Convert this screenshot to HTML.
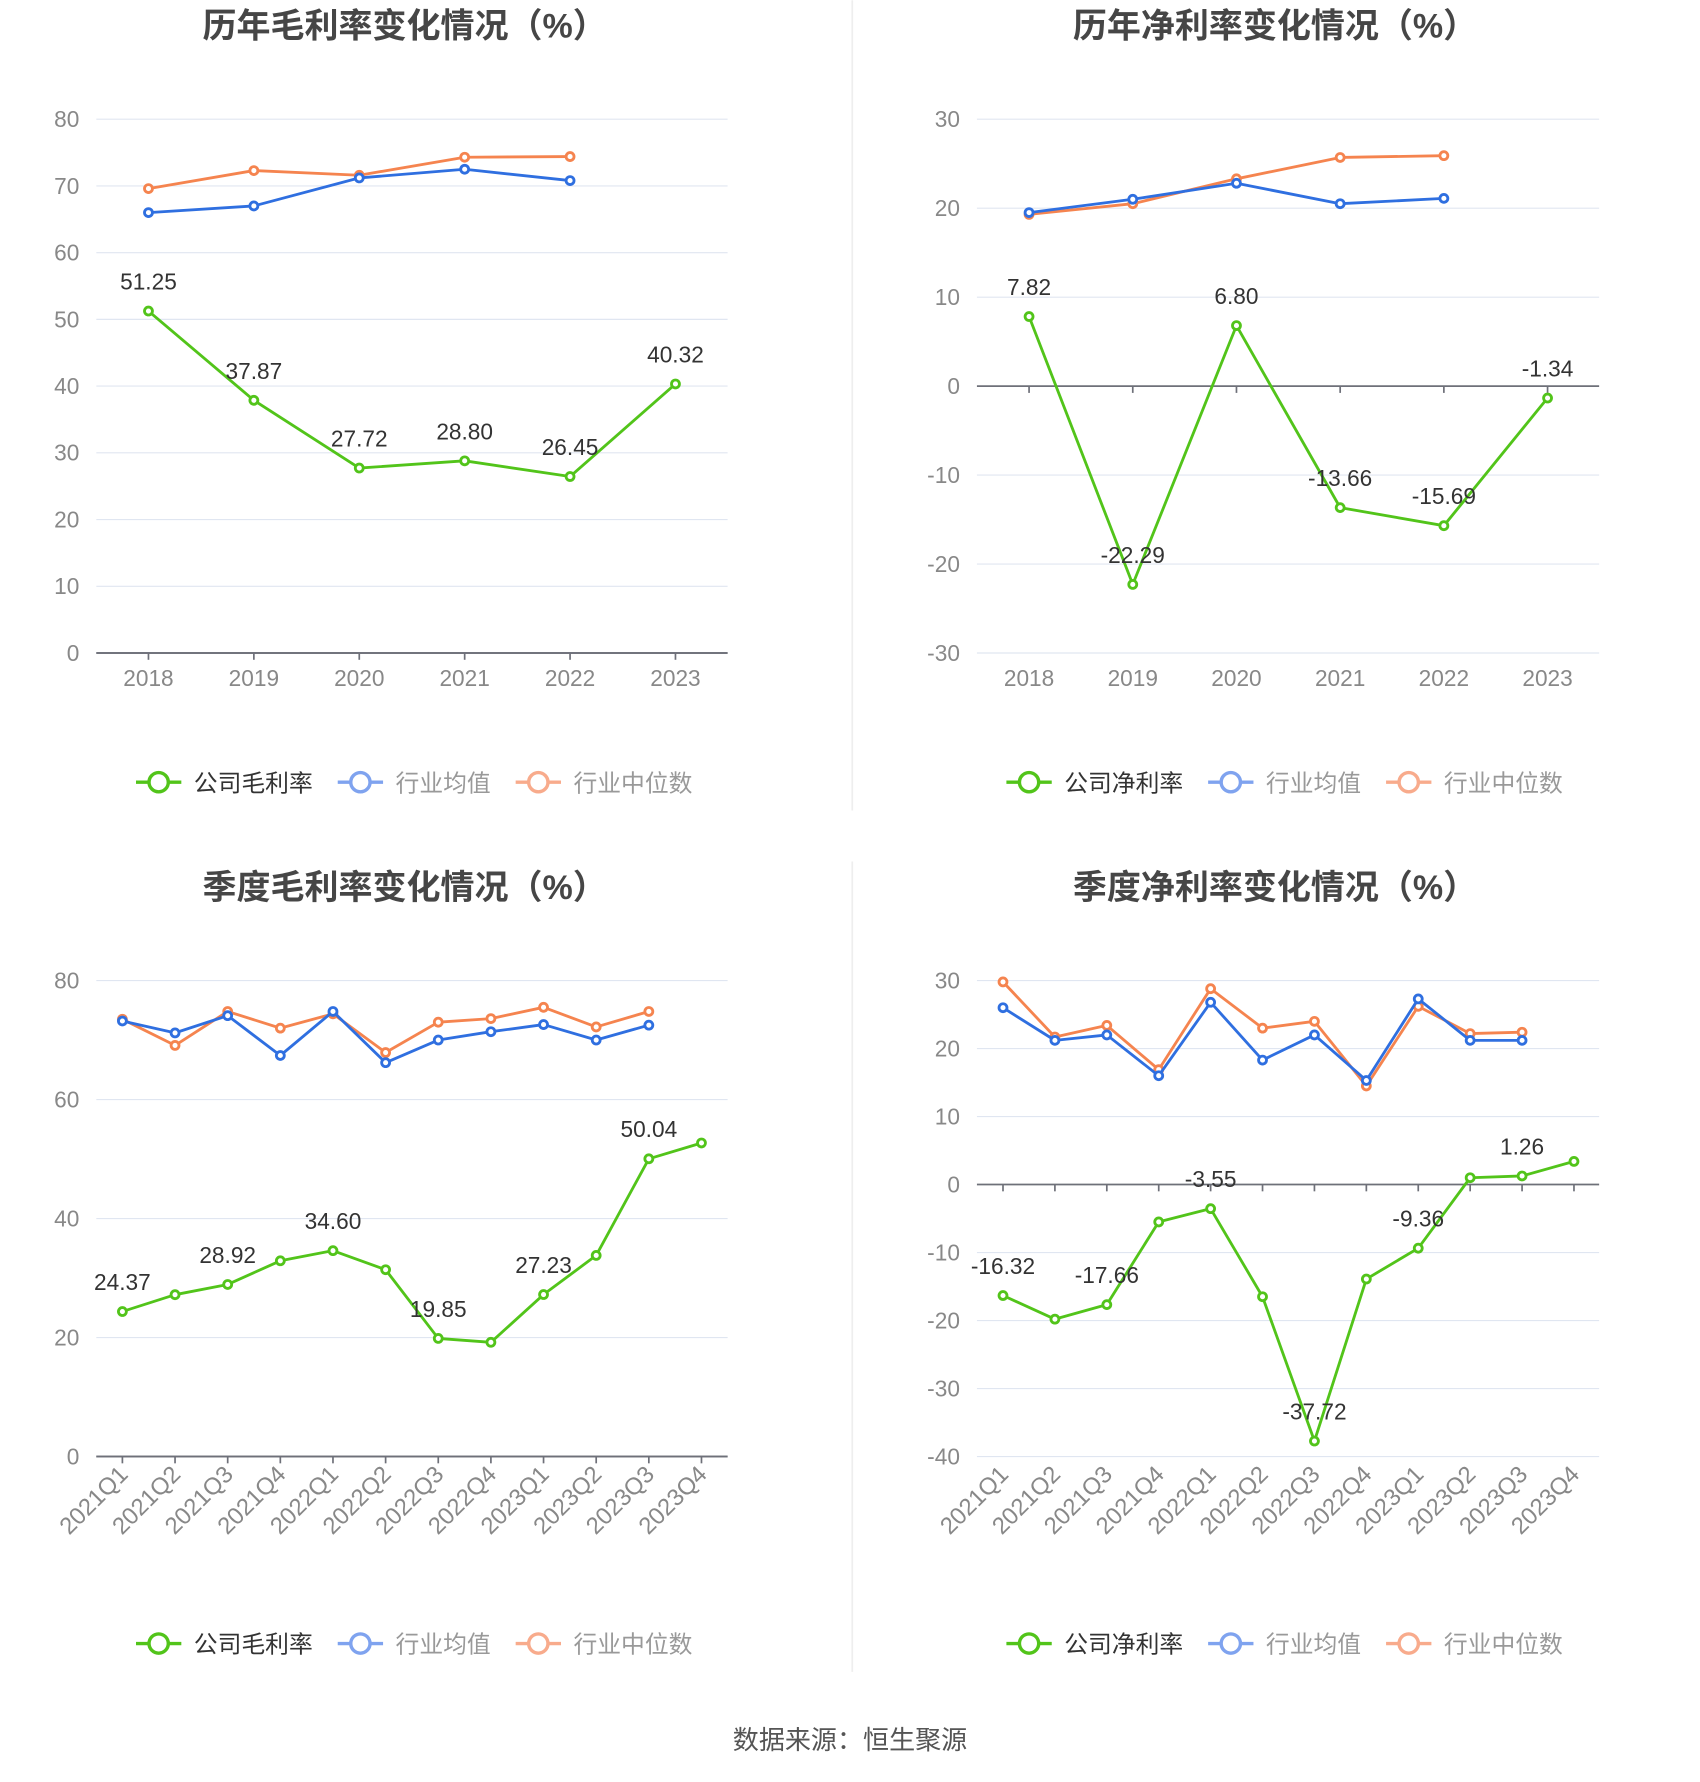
<!DOCTYPE html>
<html><head><meta charset="utf-8"><style>
html,body{margin:0;padding:0;background:#fff;}
svg{display:block;font-family:"Liberation Sans","Noto Sans CJK SC",sans-serif;}
</style></head><body>
<svg id="s" width="1700" height="1782" viewBox="0 0 1500 1572" xmlns="http://www.w3.org/2000/svg">
<line x1="752" y1="0" x2="752" y2="715" stroke="#eee" stroke-width="1.5"/>
<line x1="752" y1="760" x2="752" y2="1475" stroke="#eee" stroke-width="1.5"/>
<text x="750" y="1543" font-size="23" fill="#555" text-anchor="middle">数据来源：恒生聚源</text>
</svg>
<script>
const years=["2018","2019","2020","2021","2022","2023"];
const quarters=["2021Q1","2021Q2","2021Q3","2021Q4","2022Q1","2022Q2","2022Q3","2022Q4","2023Q1","2023Q2","2023Q3","2023Q4"];
const c1Company=[51.25,37.87,27.72,28.80,26.45,40.32];
const c1Avg=[66,67,71.2,72.5,70.8];
const c1Median=[69.6,72.3,71.6,74.3,74.4];
const c1Ticks=[0,10,20,30,40,50,60,70,80];
const c2Company=[7.82,-22.29,6.80,-13.66,-15.69,-1.34];
const c2Avg=[19.5,21,22.8,20.5,21.1];
const c2Median=[19.3,20.5,23.3,25.7,25.9];
const c2Ticks=[-30,-20,-10,0,10,20,30];
const c3Company=[24.37,27.2,28.92,32.9,34.60,31.4,19.85,19.2,27.23,33.8,50.04,52.7];
const c3Avg=[73.2,71.2,74.1,67.4,74.8,66.2,70.0,71.4,72.6,70.0,72.5];
const c3Median=[73.5,69.1,74.8,72.0,74.4,67.9,73.0,73.6,75.5,72.2,74.8];
const c3Ticks=[0,20,40,60,80];
const c3LabelIdx=[0,2,4,6,8,10];
const c4Company=[-16.32,-19.8,-17.66,-5.5,-3.55,-16.5,-37.72,-13.9,-9.36,1.0,1.26,3.4];
const c4Avg=[26,21.2,22,16,26.8,18.3,22,15.3,27.3,21.2,21.2];
const c4Median=[29.8,21.7,23.4,16.9,28.8,23,24,14.5,26.2,22.2,22.4];
const c4Ticks=[-40,-30,-20,-10,0,10,20,30];
const c4LabelIdx=[0,2,4,6,8,10];

const NS="http://www.w3.org/2000/svg";
const svg=document.getElementById('s');
function mk(tag,attrs,parent,text){const e=document.createElementNS(NS,tag);for(const k in attrs)e.setAttribute(k,attrs[k]);if(text!==undefined)e.textContent=text;(parent||svg).appendChild(e);return e;}

function chart(o){
  const g=mk('g',{});
  
  
  const ymin=o.ticks[0],ymax=o.ticks[o.ticks.length-1];
  const Y=v=>o.yb-(v-ymin)/(ymax-ymin)*(o.yb-o.yt);
  const X=i=>o.x0+i*o.step;
  const t=mk('text',{x:o.tx,y:o.ty,'font-size':30,'font-weight':'bold',fill:'#464646','text-anchor':'middle'},g,o.title);
  
  
  o.ticks.forEach(v=>{
    if(v!==0||!o.zeroAxis){const l=mk('line',{x1:o.gl,x2:o.gr,y1:Y(v),y2:Y(v),stroke:v===ymin&&!o.zeroAxis?'#6e7079':'#e0e6f1','stroke-width':v===ymin&&!o.zeroAxis?1.5:1},g);
      
      }
    const tl=mk('text',{x:o.gl-15,y:Y(v)+7,'font-size':20,fill:'#888','text-anchor':'end'},g,String(v));
    
    
  });
  const ay=o.zeroAxis?Y(0):Y(ymin);
  const ax=mk('line',{x1:o.gl,x2:o.gr,y1:ay,y2:ay,stroke:'#6e7079','stroke-width':1.5},g);
  
  
  o.cats.forEach((c,i)=>{
    const tk=mk('line',{x1:X(i),x2:X(i),y1:ay,y2:ay+6,stroke:'#6e7079','stroke-width':1.5},g);
    
    
    let lab;
    if(o.rot){const ly=Y(ymin)+17;lab=mk('text',{x:X(i)+6,y:ly,'font-size':21,fill:'#888','text-anchor':'end',transform:`rotate(-45 ${X(i)+6} ${ly})`},g,c);}
    else lab=mk('text',{x:X(i),y:Y(ymin)+29,'font-size':20,fill:'#888','text-anchor':'middle'},g,c);
    
    
  });
  const series=[[o.median,'#f5844f','median'],[o.avg,'#2f6fe0','average'],[o.company,'#52c41a','company']];
  series.forEach(([d,col,nm])=>{
    const p=mk('polyline',{points:d.map((v,i)=>X(i)+','+Y(v)).join(' '),fill:'none',stroke:col,'stroke-width':2.5,'stroke-linejoin':'round'},g);
    
    
    d.forEach((v,i)=>{const c=mk('circle',{cx:X(i),cy:Y(v),r:3.5,fill:'#fff',stroke:col,'stroke-width':2.5},g);
      
      });
  });
  o.company.forEach((v,i)=>{
    if(o.labelIdx&&!o.labelIdx.includes(i))return;
    const l=mk('text',{x:X(i),y:Y(v)-19,'font-size':20,fill:'#333','text-anchor':'middle'},g,v.toFixed(2));
    
    
  });
  const ly=o.legY,lx=o.legX;
  const items=[[o.cname,'#52c41a','#333'],['行业均值','#7fa3ef','#999'],['行业中位数','#f8ab8c','#999']];
  const offs=[0,178,335];
  items.forEach(([txt,col,tc],k)=>{
    const x=lx+offs[k];
    const lg=mk('g',{},g);
    
    
    mk('line',{x1:x,x2:x+40,y1:ly,y2:ly,stroke:col,'stroke-width':3},lg);
    mk('circle',{cx:x+20,cy:ly,r:8.5,fill:'#fff',stroke:col,'stroke-width':3},lg);
    mk('text',{x:x+51,y:ly+8,'font-size':21,fill:tc},lg,txt);
  });
}
chart({name:'annual-gross-margin-chart',title:'历年毛利率变化情况（%）',tx:357,ty:33,cats:years,company:c1Company,avg:c1Avg,median:c1Median,ticks:c1Ticks,yt:105,yb:576,x0:131,step:93,gl:85,gr:642,legX:120,legY:690,cname:'公司毛利率'});
chart({name:'annual-net-margin-chart',title:'历年净利率变化情况（%）',tx:1125,ty:33,cats:years,company:c2Company,avg:c2Avg,median:c2Median,ticks:c2Ticks,yt:105,yb:576,x0:908,step:91.5,gl:862,gr:1411,legX:888,legY:690,cname:'公司净利率',zeroAxis:true});
chart({name:'quarterly-gross-margin-chart',title:'季度毛利率变化情况（%）',tx:357,ty:793,cats:quarters,company:c3Company,avg:c3Avg,median:c3Median,ticks:c3Ticks,yt:865,yb:1285,x0:108,step:46.45,gl:85,gr:642,legX:120,legY:1450,cname:'公司毛利率',rot:true,labelIdx:c3LabelIdx});
chart({name:'quarterly-net-margin-chart',title:'季度净利率变化情况（%）',tx:1125,ty:793,cats:quarters,company:c4Company,avg:c4Avg,median:c4Median,ticks:c4Ticks,yt:865,yb:1285,x0:885,step:45.8,gl:862,gr:1411,legX:888,legY:1450,cname:'公司净利率',rot:true,zeroAxis:true,labelIdx:c4LabelIdx});
</script>
</body></html>
